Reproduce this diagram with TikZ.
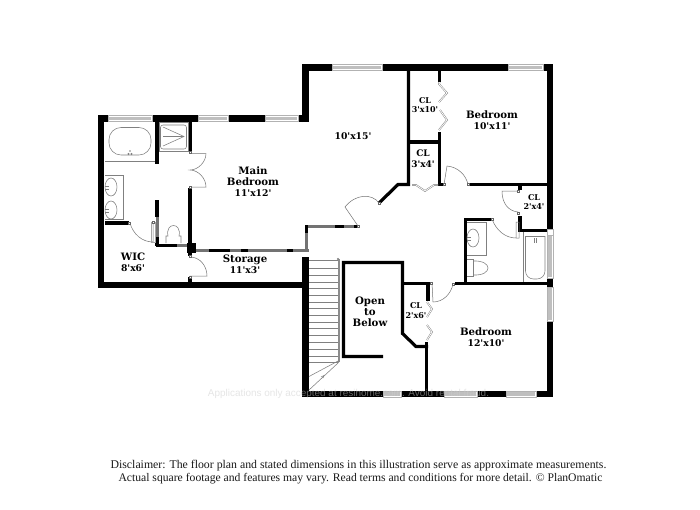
\documentclass[tikz,border=0pt]{standalone}
\usepackage{fontspec}
\setmainfont{DejaVu Serif}[Ligatures=TeXOff]
\newfontfamily\discfont{Liberation Serif}
\newfontfamily\wmfont{Liberation Sans}
\newcommand{\dm}[1]{{\fontsize{9.2}{11}\selectfont #1}}
\begin{document}
\begin{tikzpicture}[x=1pt,y=-1pt,
  wall/.style={line width=#1,black,line cap=butt},
  wall/.default=6.5pt,
  thinwall/.style={line width=3.2pt,black},
  grayseg/.style={line width=3pt,black!55},
  win/.style={fill=white,draw=black!30,line width=.4pt},
  winbar/.style={fill=black!25},
  fixture/.style={draw=black!50,line width=.55pt},
  doorline/.style={draw=black!55,line width=.5pt},
  post/.style={fill=white,draw=black!60,line width=.4pt},
  bifold/.style={draw=black!55,double=white,line width=.4pt,double distance=.8pt},
  lbl/.style={font=\bfseries\fontsize{10.2}{11}\selectfont,align=center,text=black,inner sep=0pt},
  lblsm/.style={font=\bfseries\fontsize{8}{9.5}\selectfont,align=center,text=black,inner sep=0pt},
  lblmd/.style={font=\bfseries\fontsize{9}{11}\selectfont,align=center,text=black,inner sep=0pt}]
\useasboundingbox (0,0) rectangle (700,509);
\fill[white] (0,0) rectangle (700,509);
% ===== outer walls
\draw[wall,line join=miter] (152,118.5) -- (101,118.5) -- (101,285) -- (305.5,285);
\draw[wall] (152,118.5) -- (305,118.5);
\draw[wall,line join=miter] (305.5,122) -- (305.5,67.5) -- (550,67.5) -- (550,229);
\draw[wall] (550,278) -- (550,287);
\draw[wall,line join=miter] (550,321) -- (550,394) -- (305.5,394) -- (305.5,257);
\draw[wall] (305.5,282) -- (305.5,288);
% windows
\foreach \xa/\xb/\yy in {108/152/118.5,198/228/118.5,265/298/118.5,332/382/67.5,508/543/67.5,383/401/394,444/477/394,506/536/394}{
  \filldraw[win] (\xa,\yy-3) rectangle (\xb,\yy+3);
  \fill[winbar] (\xa+1,\yy-1.8) rectangle (\xb-1,\yy+1.8);}
\foreach \ya/\yb in {235/278,287/321}{
  \filldraw[win] (547,\ya) rectangle (553,\yb);
  \fill[winbar] (548.2,\ya+1) rectangle (551.8,\yb-1);}
\filldraw[win] (547,229) rectangle (553,235);
% ===== main bedroom partition
\draw[thinwall] (190,122) -- (190,152);
\draw[thinwall] (190,188) -- (190,247);
\draw[wall=4pt] (157,122) -- (157,164);
\draw[thinwall] (157,200) -- (157,217);
\draw[grayseg] (157,217) -- (157,237);
\draw[thinwall] (157,237) -- (157,245.5);
\draw[thinwall] (155.5,245.5) -- (177,245.5);
\draw[grayseg] (177,245.5) -- (187,245.5);
\fill (187,243) rectangle (196,253);
\draw[thinwall] (105,223) -- (129,223);
\draw[grayseg] (196,250.5) -- (309,250.5);
\foreach \xa/\xb in {209/230,241/248,287/293}\draw[thinwall] (\xa,250.5) -- (\xb,250.5);
\draw[thinwall] (190,253) -- (190,256);
\draw[thinwall] (190,277) -- (190,282);
% hall stub
\draw[grayseg] (306.5,228) -- (306.5,252);
\draw[grayseg] (305,226.5) -- (358,226.5);
\draw[thinwall] (335,226.5) -- (344,226.5);
\draw[thinwall] (306.5,225) -- (306.5,233);
\draw[thinwall] (354,226.5) -- (358,226.5);
% ===== upper-right partitions
\draw[thinwall] (408.5,71) -- (408.5,184.5) -- (398,184.5) -- (379,203);
\draw[thinwall] (439.5,71) -- (439.5,82);
\draw[thinwall] (439.5,132) -- (439.5,186);
\draw[thinwall] (410,142) -- (439,142);
\draw[thinwall] (438,184.5) -- (444,184.5);
\draw[thinwall] (470,184.5) -- (547,184.5);
\draw[thinwall] (520,186) -- (520,190);
\draw[thinwall,line join=miter] (520,216) -- (520,230.5) -- (547,230.5);
% bath
\draw[thinwall,line join=miter] (491,219.5) -- (465.5,219.5) -- (465.5,283.5);
\draw[thinwall] (455,283.5) -- (547,283.5);
% open to below
\draw[thinwall,line join=miter] (383,356.5) -- (343.5,356.5) -- (343.5,262.5) -- (402.5,262.5) -- (402.5,333.5) -- (416,346.5) -- (428,346.5);
\draw[thinwall,line join=miter] (402.5,283.5) -- (428,283.5) -- (428,301);
\draw[thinwall] (426.5,342) -- (426.5,391);
% ===== doors
\draw[doorline] (190,153.5) -- (206,153.5) .. controls (206,162) and (198,170) .. (190,170)
  .. controls (198,170) and (206,178) .. (206,187) -- (190,187);
\draw[doorline] (190,257) .. controls (200,257) and (207,266) .. (207,276) -- (190,276);
\draw[doorline] (130,223) .. controls (133,234) and (142,242) .. (153,242) -- (153,222);
\draw[fixture,draw=black!35] (151.5,222) rectangle (155,242);
\draw[doorline] (379,203) .. controls (372,193) and (355,194) .. (345,207) -- (358,226);
\draw[doorline] (444,184.5) -- (447,166) .. controls (458,167) and (466,175) .. (468,184.5);
\draw[doorline] (518,191) -- (502,191) .. controls (502,203) and (508,211) .. (518,212);
\draw[doorline] (492,219) .. controls (496,230) and (505,238) .. (516,238) -- (516,222) -- (519,222) -- (519,238) -- (516,238);
\draw[doorline] (432,283) -- (433,302) .. controls (443,302) and (451,294) .. (453,284);
\foreach \px/\py in {190/152,190/187,190/256,190/277,129/223,153/222,379/203,358/226,444/184,468/184,518/191,518/213,492/219,431/283,453/284}
  \filldraw[post] (\px-1.3,\py-1.3) rectangle (\px+1.3,\py+1.3);
% bifolds
\draw[bifold] (439.5,82) -- (439,84) -- (447,93) -- (439,102);
\draw[bifold] (440,110) -- (447,120) -- (439,130);
\draw[bifold] (412,185) -- (416,185) -- (425,191) -- (434,185) -- (438,185);
\draw[bifold] (427,302) -- (432,309) -- (427,317);
\draw[bifold] (427,325) -- (432,332) -- (427,340);
% ===== fixtures
\draw[fixture] (105,161) -- (155,161);
\draw[fixture,rounded corners=12pt] (109,127.5) rectangle (151,155);
\draw[fixture,fill=white,draw=black!50] (128.5,154) circle (.8) (131.5,154) circle (.8) (130,151) circle (.4);
\draw[fixture] (159,122) rectangle (188,151);
\draw[fixture,rounded corners=2.5pt] (160.5,125) rectangle (186.5,149);
\draw[fixture] (163,127) -- (184,136.5) -- (163,146) (163,136.5) -- (184,136.5);
\draw[fixture] (105,175) -- (123,175) -- (123,219) -- (105,219);
\draw[fixture] (111,187) ellipse (6 and 9);
\draw[fixture] (111,210) ellipse (6 and 9);
\draw[fixture] (105,186) -- (109,186) (105,189) -- (109,189) (105,209) -- (109,209) (105,212) -- (109,212);
% main bath toilet
\draw[fixture] (166,243) -- (166,236) -- (168,236) .. controls (165,222) and (182,222) .. (179,236) -- (181,236) -- (181,243);
% upper bath
\draw[fixture] (467,222) -- (486,222) -- (486,255) -- (467,255);
\draw[fixture] (473,238) ellipse (6 and 9);
\draw[fixture] (467,237) -- (471,237) (467,240) -- (471,240);
\draw[fixture] (467,259.5) -- (473,259.5) -- (473,276) -- (467,276);
\draw[fixture] (473,261) .. controls (493,260) and (493,276) .. (473,275);
\draw[fixture] (523,232) -- (523,282);
\draw[fixture,rounded corners=8pt] (525.5,236) -- (525.5,279) -- (545,279) -- (545,236);
\draw[fixture] (525.5,236) -- (545,236);
\draw[fixture] (534.5,238) -- (534.5,243) (536.5,238) -- (536.5,243);
% ===== stairs
\foreach \yy in {260,268,275,282,288,295,302,308,315,322,328,335,342,349,356,362}
  \draw[fixture] (309,\yy) -- (338,\yy);
\draw[fixture,black!45] (338,259) -- (338,362);
\draw[fixture,black!45] (339.5,259) -- (339.5,362);
\draw[fixture] (338,361) -- (309,376.5) (338,363) -- (309,390);
\draw[fixture] (321,377) -- (324,375.5) -- (323,378);
\filldraw[post] (338,259) circle (.9) (338,362) circle (.9);
% ===== labels
\node[lbl] (lmain) at (253,182) {Main\\Bedroom\\\dm{11'x12'}};
\node[lbl] (lfam) at (353,136.5) {\dm{10'x15'}};
\node[lbl] (lbr1) at (492,120) {Bedroom\\\dm{10'x11'}};
\node[lbl] (lbr2) at (486,337) {Bedroom\\\dm{12'x10'}};
\node[lbl] (lwic) at (133,262) {WIC\\\dm{8'x6'}};
\node[lbl] (lstor) at (245,264.5) {Storage\\\dm{11'x3'}};
\node[lbl] (lopen) at (370,312) {Open\\to\\Below};
\node[lblsm] (lcl1) at (425,105) {CL\\3'x10'};
\node[lblmd] (lcl2) at (423,158.5) {CL\\3'x4'};
\node[lblsm] (lcl3) at (534,202) {CL\\2'x4'};
\node[lblsm] (lcl4) at (416,310.5) {CL\\2'x6'};
% watermark
\node[inner sep=0pt,opacity=.5,text=black!20,font=\wmfont\fontsize{9.95}{11}\selectfont] (wm2) at (348.5,394) {Applications only accepted at resihome.com. Avoid rental fraud.};
% disclaimer
\node[inner sep=0pt,text=black!90,font=\discfont\fontsize{11.8}{13}\selectfont] (d1) at (358.5,466) {Disclaimer: The floor plan and stated dimensions in this illustration serve as approximate measurements.};
\node[inner sep=0pt,text=black!90,font=\discfont\fontsize{11.65}{13}\selectfont] (d2) at (360.5,479) {Actual square footage and features may vary. Read terms and conditions for more detail. © PlanOmatic};
\end{tikzpicture}
\end{document}
